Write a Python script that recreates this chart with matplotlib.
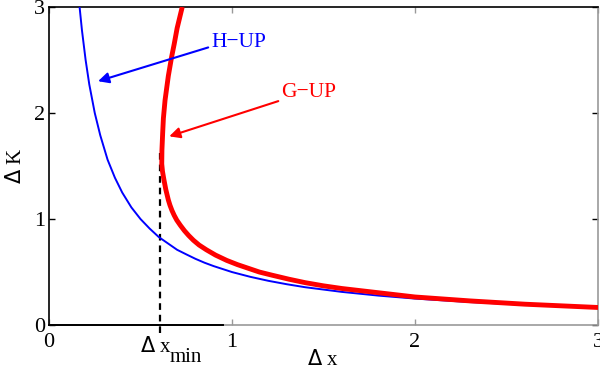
import numpy as np
import matplotlib.pyplot as plt

# H-UP curve (dx, dK)
hup_x = [0.167, 0.18, 0.20, 0.22, 0.25, 0.28, 0.32, 0.36, 0.40, 0.45, 0.50, 0.55,
         0.60, 0.65, 0.70, 0.75, 0.80, 0.85, 0.90, 1.00, 1.10, 1.20, 1.30, 1.40,
         1.60, 1.80, 2.00, 2.30, 2.60, 3.00]
hup_k = [3.00, 2.78, 2.50, 2.27, 2.00, 1.79, 1.56, 1.39, 1.25, 1.11, 1.00, 0.91,
         0.83, 0.77, 0.71, 0.667, 0.625, 0.588, 0.556, 0.50, 0.455, 0.417, 0.385, 0.357,
         0.313, 0.278, 0.25, 0.217, 0.192, 0.167]

# G-UP curve (dx, dK)
gup_x = [0.728, 0.700, 0.684, 0.670, 0.652, 0.634, 0.625, 0.621, 0.617, 0.616, 0.620,
         0.628, 0.638, 0.652, 0.661, 0.672, 0.684, 0.698, 0.718, 0.740, 0.763, 0.789,
         0.820, 0.860, 0.910, 0.971, 1.03, 1.09, 1.15, 1.22, 1.31, 1.40, 1.50, 1.60,
         1.80, 2.00, 2.30, 2.60, 3.00]
gup_k = [3.00, 2.80, 2.65, 2.53, 2.35, 2.12, 1.95, 1.81, 1.65, 1.52, 1.45,
         1.37, 1.28, 1.18, 1.13, 1.08, 1.035, 0.99, 0.94, 0.89, 0.845, 0.80,
         0.755, 0.71, 0.66, 0.61, 0.57, 0.535, 0.50, 0.47, 0.433, 0.40, 0.37, 0.345,
         0.305, 0.265, 0.228, 0.197, 0.166]

dx_min = 0.607
dk_at_min = 1.65
ticks = [0, 1, 2, 3]

plt.rcParams['font.family'] = ['Liberation Serif', 'DejaVu Serif']
plt.rcParams['mathtext.fontset'] = 'custom'
plt.rcParams['mathtext.rm'] = 'Liberation Serif'
plt.rcParams['mathtext.it'] = 'Liberation Serif'
plt.rcParams['mathtext.sf'] = 'DejaVu Sans'

fig = plt.figure(figsize=(6, 3.78), dpi=100)
ax = fig.add_axes([0.0817, 0.140, 0.915, 0.8415])

ax.plot(hup_x, hup_k, color='blue', lw=1.4, zorder=3)
ax.plot(gup_x, gup_k, color='red', lw=3.5, zorder=3, solid_capstyle='butt',
        solid_joinstyle='round')
ax.plot([dx_min, dx_min], [-0.07, dk_at_min], color='black', lw=1.6,
        ls=(0, (3, 2.2)), clip_on=False, zorder=2)

ax.annotate('H\u2212UP', xy=(0.268, 2.30), xytext=(0.885, 2.62),
            color='blue', fontsize=15.5, va='baseline', ha='left',
            arrowprops=dict(arrowstyle='-|>', color='blue', lw=1.5,
                            mutation_scale=16, shrinkA=0, shrinkB=0,
                            relpos=(0, 0.3)), zorder=5)
ax.annotate('G\u2212UP', xy=(0.657, 1.78), xytext=(1.268, 2.15),
            color='red', fontsize=15.5, va='baseline', ha='left',
            arrowprops=dict(arrowstyle='-|>', color='red', lw=1.5,
                            mutation_scale=16, shrinkA=0, shrinkB=0,
                            relpos=(0, 0.1)), zorder=5)

ax.set_xlim(0, 3)
ax.set_ylim(0, 3)
ax.set_xticks(ticks)
ax.set_yticks(ticks)
ax.tick_params(axis='both', direction='in', length=4, width=1, labelsize=16,
               top=True, right=True)
ax.tick_params(axis='x', pad=6, color='#999999', labelcolor='black')
ax.tick_params(axis='y', pad=3)

for side in ['left', 'top']:
    ax.spines[side].set_color('black')
    ax.spines[side].set_linewidth(1.2)
for side in ['right', 'bottom']:
    ax.spines[side].set_color('#999999')
    ax.spines[side].set_linewidth(1.2)
ax.axhline(0, xmin=0, xmax=0.317, color='black', lw=1.4, clip_on=False, zorder=4)

# Delta x_min label under the dashed line
ax.text(0.497, -0.255, r'$\mathsf{\Delta}\ \mathrm{x}$', fontsize=15,
        va='baseline', ha='left')
ax.text(0.661, -0.35, 'min', fontsize=15, va='baseline', ha='left')

ax.set_xlabel(r'$\mathsf{\Delta}\ \mathrm{x}$', fontsize=15, va='center')
ax.xaxis.set_label_coords(0.499, -0.11)
ax.set_ylabel(r'$\mathsf{\Delta}\ \mathrm{K}$', fontsize=15, va='center')
ax.yaxis.set_label_coords(-0.060, 0.50)

fig.savefig('out.png', dpi=100)
